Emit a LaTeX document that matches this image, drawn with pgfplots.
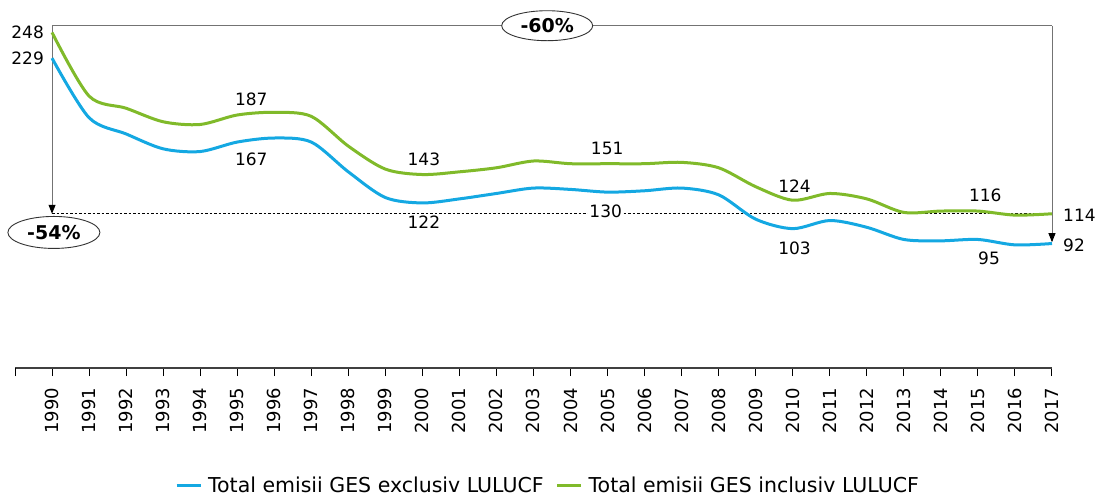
\documentclass[border=0pt]{standalone}
\usepackage{fontspec}
\setmainfont{DejaVu Sans}
\usepackage{pgfplots}
\pgfplotsset{compat=1.18}
\usetikzlibrary{arrows.meta,shapes.geometric}
\definecolor{gesblue}{RGB}{20,168,226}
\definecolor{gesgreen}{RGB}{128,186,42}

\begin{document}
\fontsize{17}{20}\selectfont
\begin{tikzpicture}[x=1pt,y=1pt]
\useasboundingbox (-15,-128) rectangle (1080,368);
\begin{axis}[
  scale only axis,
  width=1037pt, height=345pt,
  xmin=1989, xmax=2017,
  ymin=0, ymax=255,
  axis x line*=bottom,
  hide y axis,
  clip=false,
  xtick={1990,...,2017},
  extra x ticks={1989},
  extra x tick labels={},
  tick align=outside,
  major tick length=8pt,
  tick style={black, line width=1pt},
  x axis line style={line width=1.4pt, black!75},
  xticklabel style={yshift=-6pt, rotate=90, anchor=east, font=\fontsize{18}{20}\selectfont},
  /pgf/number format/assume math mode=true,
  /pgf/number format/1000 sep={},
  legend style={at={(0.514,-0.342)}, anchor=center, draw=none, fill=none,
    legend columns=2, font=\fontsize{20.5}{23}\selectfont,
    /tikz/every even column/.append style={column sep=10pt}},
  legend image code/.code={\draw[#1] (0pt,0pt) -- (24pt,0pt); \path (28pt,0pt);},
]
% reference lines
\draw[black, line width=0.7pt, dash pattern=on 2.5pt off 2pt] (axis cs:1990,114) -- (axis cs:2017,114);
\draw[black!55, line width=0.9pt] (axis cs:1990,253) -- (axis cs:2017,253);
\draw[black!55, line width=0.9pt, -{Triangle[black,length=9pt,width=7pt]}] (axis cs:1990,253) -- (axis cs:1990,114);
\draw[black!55, line width=0.9pt, -{Triangle[black,length=9pt,width=7pt]}] (axis cs:2017,253) -- (axis cs:2017,93);

\addplot[gesblue, line width=3pt, smooth] coordinates {
  (1990,229) (1991,185) (1992,173) (1993,162) (1994,160) (1995,167)
  (1996,170) (1997,167) (1998,145) (1999,126) (2000,122) (2001,125)
  (2002,129) (2003,133) (2004,132) (2005,130) (2006,131) (2007,133)
  (2008,128) (2009,110) (2010,103) (2011,109) (2012,104) (2013,95)
  (2014,94) (2015,95) (2016,91) (2017,92)
};
\addlegendentry{Total emisii GES exclusiv LULUCF}
\addplot[gesgreen, line width=3pt, smooth] coordinates {
  (1990,248) (1991,201) (1992,192) (1993,182) (1994,180) (1995,187)
  (1996,189) (1997,186) (1998,164) (1999,147) (2000,143) (2001,145)
  (2002,148) (2003,153) (2004,151) (2005,151) (2006,151) (2007,152)
  (2008,148) (2009,134) (2010,124) (2011,129) (2012,125) (2013,115)
  (2014,116) (2015,116) (2016,113) (2017,114)
};
\addlegendentry{Total emisii GES inclusiv LULUCF}

% value labels
\node[anchor=east, inner sep=0pt, xshift=-8pt] at (axis cs:1990,248) {248};
\node[anchor=east, inner sep=0pt, xshift=-8pt] at (axis cs:1990,229) {229};
\node[inner sep=1pt] at (axis cs:1995.38,198.5) {187};
\node[inner sep=1pt] at (axis cs:1995.38,154.1) {167};
\node[inner sep=1pt] at (axis cs:2000.04,154.1) {143};
\node[inner sep=1pt, fill=white] at (axis cs:2000.04,107.6) {122};
\node[inner sep=1pt] at (axis cs:2004.99,162.3) {151};
\node[inner sep=1pt, fill=white] at (axis cs:2004.95,115.7) {130};
\node[inner sep=1pt] at (axis cs:2010.05,134.2) {124};
\node[inner sep=1pt] at (axis cs:2010.05,88.4) {103};
\node[inner sep=1pt] at (axis cs:2015.2,127.5) {116};
\node[inner sep=1pt] at (axis cs:2015.3,80.9) {95};
\node[anchor=west, inner sep=0pt, xshift=11pt] at (axis cs:2017,112.7) {114};
\node[anchor=west, inner sep=0pt, xshift=11pt] at (axis cs:2017,90.6) {92};

% percentage ellipses
\node[ellipse, draw=black!80, line width=0.9pt, fill=white, inner sep=0pt,
  minimum width=91pt, minimum height=30pt, font=\bfseries\fontsize{19}{22}\selectfont]
  at (axis cs:2003.37,253) {-60\%};
\node[ellipse, draw=black!80, line width=0.9pt, fill=white, inner sep=0pt,
  minimum width=92pt, minimum height=32pt, font=\bfseries\fontsize{19}{22}\selectfont]
  at (axis cs:1990.05,100.2) {-54\%};
\end{axis}
\end{tikzpicture}
\end{document}
